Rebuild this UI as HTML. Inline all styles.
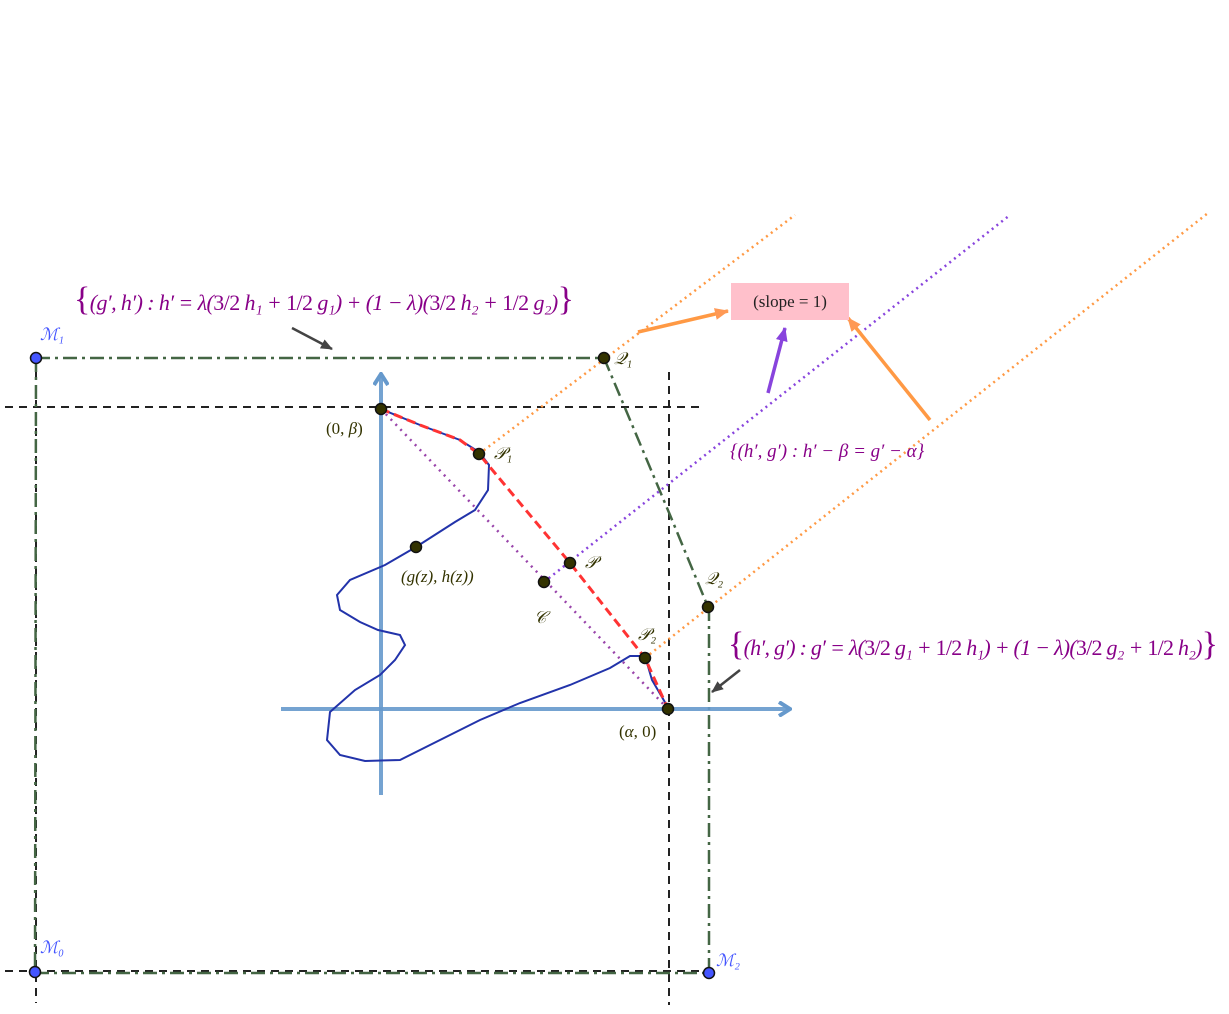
<!DOCTYPE html>
<html><head><meta charset="utf-8"><style>
body{margin:0;background:#fff}
svg{display:block}
text{font-family:"Liberation Serif",serif}
</style></head><body>
<svg width="1229" height="1014" viewBox="0 0 1229 1014">
<defs>
<marker id="ab" markerWidth="14" markerHeight="16" refX="12" refY="8" orient="auto" markerUnits="userSpaceOnUse"><path d="M1,1 L12,8 L1,15" fill="none" stroke="#6699cc" stroke-width="4"/></marker>
<marker id="ag" markerWidth="12" markerHeight="10" refX="11" refY="5" orient="auto" markerUnits="userSpaceOnUse"><path d="M0,0 L12,5 L0,10 Z" fill="#444"/></marker>
<marker id="ao" markerWidth="14" markerHeight="12" refX="13" refY="6" orient="auto" markerUnits="userSpaceOnUse"><path d="M0,0 L14,6 L0,12 Z" fill="#ff9955"/></marker>
<marker id="ap" markerWidth="14" markerHeight="12" refX="13" refY="6" orient="auto" markerUnits="userSpaceOnUse"><path d="M0,0 L14,6 L0,12 Z" fill="#8844dd"/></marker>
</defs>
<g stroke="#222" stroke-width="2" stroke-dasharray="8,6" fill="none">
<line x1="5" y1="407" x2="705" y2="407"/>
<line x1="669" y1="372" x2="669" y2="1005"/>
<line x1="5" y1="971" x2="709" y2="971"/>
<line x1="36" y1="358" x2="36" y2="1003"/>
</g>
<g stroke="#446644" stroke-width="2.5" stroke-dasharray="14,5,3,5" fill="none">
<line x1="36" y1="358" x2="604" y2="358"/>
<polyline points="604,358 670,515 708,607"/>
<line x1="709" y1="607" x2="709" y2="973"/>
<line x1="36" y1="358" x2="35" y2="972"/>
<line x1="35" y1="973" x2="709" y2="973"/>
</g>
<line x1="381" y1="795" x2="381" y2="374" stroke="#6699cc" stroke-opacity="0.9" stroke-width="4" marker-end="url(#ab)"/>
<line x1="281" y1="709" x2="790" y2="709" stroke="#6699cc" stroke-opacity="0.9" stroke-width="4" marker-end="url(#ab)"/>
<line x1="479" y1="454" x2="795" y2="215" stroke="#ff9944" stroke-width="2.5" stroke-dasharray="2,4"/>
<line x1="645" y1="658" x2="1208" y2="213" stroke="#ff9944" stroke-width="2.5" stroke-dasharray="2,4"/>
<line x1="544" y1="582" x2="1010" y2="215" stroke="#8844dd" stroke-width="2.5" stroke-dasharray="2,4"/>
<line x1="381" y1="409" x2="668" y2="709" stroke="#9944aa" stroke-width="2.5" stroke-dasharray="2,5"/>
<polyline fill="none" stroke="#2233aa" stroke-width="2" points="381,409 420,425 460,440 479,452 489,465 488,490 475,510 455,522 416,547 385,565 350,580 337,595 340,610 360,622 378,630 400,635 405,645 395,660 380,675 355,690 330,712 327,740 340,755 365,761 400,760 430,745 480,720 520,703 570,685 610,668 630,656 645,656 652,680 666,704"/>
<polyline fill="none" stroke="#ff3333" stroke-width="3" stroke-dasharray="9,5" points="381,409 420,425 460,440 479,454 570,563 645,658 668,709"/>
<line x1="292" y1="328" x2="332" y2="349" stroke="#444" stroke-width="2.5" marker-end="url(#ag)"/>
<line x1="740" y1="670" x2="712" y2="692" stroke="#444" stroke-width="2.5" marker-end="url(#ag)"/>
<line x1="638" y1="332" x2="728" y2="311" stroke="#ff9944" stroke-width="3.5" marker-end="url(#ao)"/>
<line x1="930" y1="420" x2="848" y2="318" stroke="#ff9944" stroke-width="3.5" marker-end="url(#ao)"/>
<line x1="768" y1="393" x2="785" y2="328" stroke="#8844dd" stroke-width="3.5" marker-end="url(#ap)"/>
<rect x="731" y="283" width="118" height="37" fill="#ffc0cb"/>
<text x="790" y="307" font-size="17" text-anchor="middle" fill="#222">(slope = 1)</text>
<text x="74" y="310" font-size="22" fill="#880088" font-style="italic" textLength="500"><tspan font-size="34" font-style="normal">{</tspan>(g′, h′) : h′ = λ(<tspan font-style="normal">3/2</tspan> h₁ + <tspan font-style="normal">1/2</tspan> g₁) + (1 − λ)(<tspan font-style="normal">3/2</tspan> h₂ + <tspan font-style="normal">1/2</tspan> g₂)<tspan font-size="34" font-style="normal">}</tspan></text>
<text x="728" y="655" font-size="22" fill="#880088" font-style="italic" textLength="490"><tspan font-size="34" font-style="normal">{</tspan>(h′, g′) : g′ = λ(<tspan font-style="normal">3/2</tspan> g₁ + <tspan font-style="normal">1/2</tspan> h₁) + (1 − λ)(<tspan font-style="normal">3/2</tspan> g₂ + <tspan font-style="normal">1/2</tspan> h₂)<tspan font-size="34" font-style="normal">}</tspan></text>
<text x="730" y="457" font-size="19" fill="#880088" font-style="italic">{(h′, g′) : h′ − β = g′ − α}</text>
<g stroke="#111" stroke-width="1.5">
<circle cx="36" cy="358" r="5.5" fill="#4455ff"/>
<circle cx="35" cy="972" r="5.5" fill="#4455ff"/>
<circle cx="709" cy="973" r="5.5" fill="#4455ff"/>
<circle cx="604" cy="358" r="5.5" fill="#333300"/>
<circle cx="708" cy="607" r="5.5" fill="#333300"/>
<circle cx="381" cy="409" r="5.5" fill="#333300"/>
<circle cx="479" cy="454" r="5.5" fill="#333300"/>
<circle cx="570" cy="563" r="5.5" fill="#333300"/>
<circle cx="544" cy="582" r="5.5" fill="#333300"/>
<circle cx="645" cy="658" r="5.5" fill="#333300"/>
<circle cx="668" cy="709" r="5.5" fill="#333300"/>
<circle cx="416" cy="547" r="5.5" fill="#333300"/>
</g>
<g font-size="17" font-style="italic">
<text x="40" y="340" fill="#4455ff">ℳ₁</text>
<text x="40" y="953" fill="#4455ff">ℳ₀</text>
<text x="716" y="966" fill="#4455ff">ℳ₂</text>
<text x="614" y="364" fill="#333300">𝒬₁</text>
<text x="705" y="584" fill="#333300">𝒬₂</text>
<text x="326" y="434" fill="#333300" font-style="normal">(0, <tspan font-style="italic">β</tspan>)</text>
<text x="494" y="459" fill="#333300">𝒫₁</text>
<text x="585" y="568" fill="#333300">𝒫</text>
<text x="534" y="623" fill="#333300">𝒞</text>
<text x="638" y="640" fill="#333300">𝒫₂</text>
<text x="619" y="737" fill="#333300" font-style="normal">(<tspan font-style="italic">α</tspan>, 0)</text>
<text x="401" y="582" fill="#333300">(g(z), h(z))</text>
</g>
</svg>
</body></html>
